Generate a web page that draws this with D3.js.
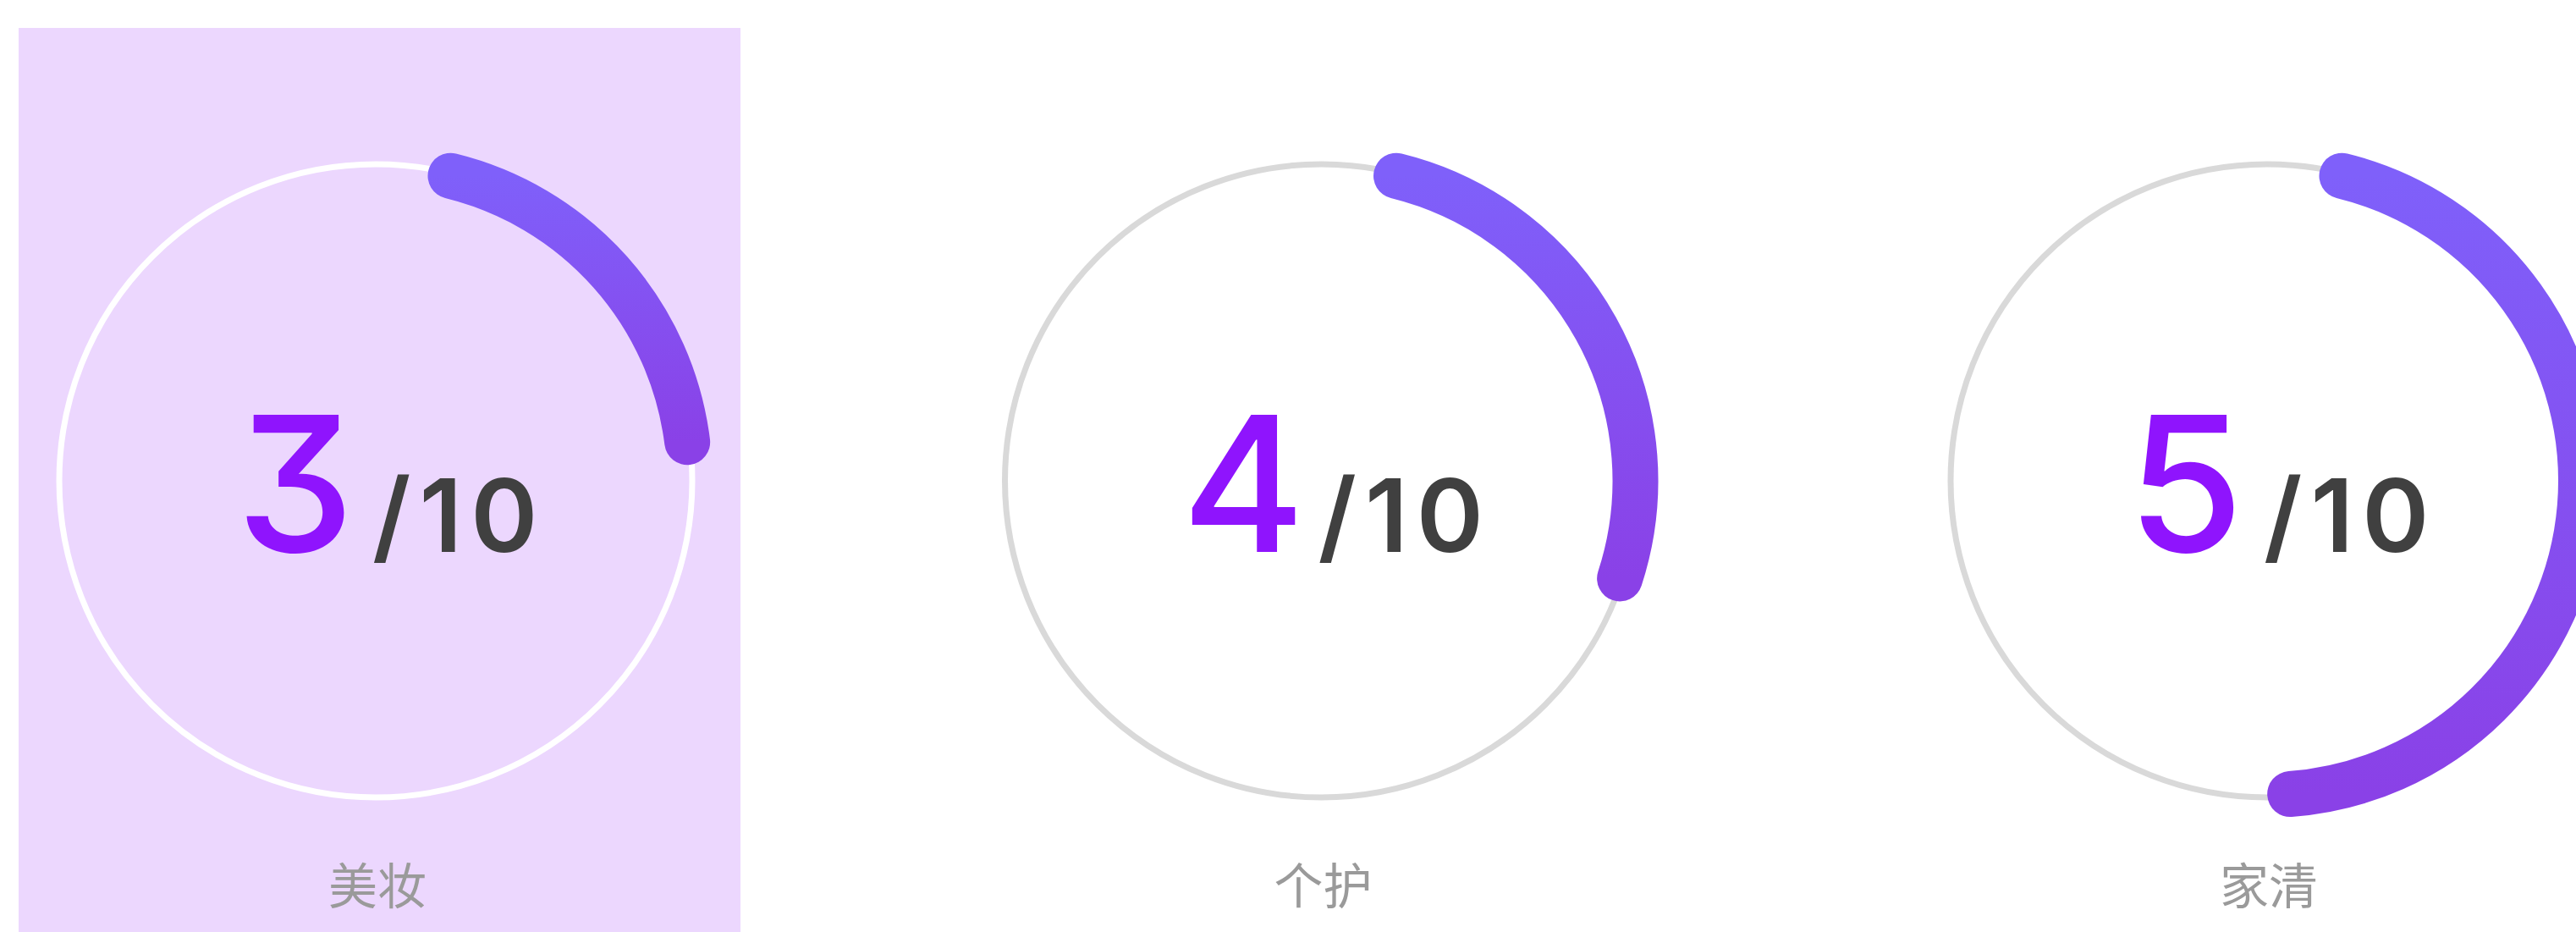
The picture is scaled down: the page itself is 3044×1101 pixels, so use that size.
<!DOCTYPE html>
<html>
<head>
<meta charset="utf-8">
<script src="https://cdn.jsdelivr.net/npm/d3@7"></script>
<style>
  html, body { margin: 0; padding: 0; background: #ffffff; overflow: hidden; }
  svg { display: block; }
</style>
</head>
<body>
<svg id="chart" width="3044" height="1101"></svg>
<script>
// ---- data ----
const categories = ["美妆", "个护", "家清"];
const scores = [3, 4, 5];
const totals = [10, 10, 10];
// fraction of the full ring covered by each progress arc
const progress = [0.192, 0.262, 0.45];
const selectedIndex = 0;

// ---- layout ----
const W = 3044, H = 1101;
const cy = 568;
const ringR = 374, arcR = 371;
const svg = d3.select("#chart");

const xPos = d3.scaleLinear().domain([0, 2]).range([444, 2679]);
const startDeg = 13.8;
const angle = d3.scaleLinear().domain([0, 1]).range([startDeg, startDeg + 360]);
const toRad = d => d * Math.PI / 180;

const defs = svg.append("defs");
const grad = defs.append("linearGradient")
  .attr("id", "arcGrad").attr("x1", 0).attr("y1", 0).attr("x2", 0).attr("y2", 1);
grad.append("stop").attr("offset", "0%").attr("stop-color", "#7f60fa");
grad.append("stop").attr("offset", "100%").attr("stop-color", "#8a41e7");

// selected background
svg.append("rect")
  .attr("x", 22).attr("y", 33)
  .attr("width", 853).attr("height", H - 33 + 10)
  .attr("fill", "#ecd7fe");

const panels = svg.selectAll("g.panel")
  .data(categories.map((c, i) => ({ c, i, score: scores[i], total: totals[i], p: progress[i] })))
  .join("g")
  .attr("class", "panel")
  .attr("transform", d => `translate(${xPos(d.i)},${cy})`);

panels.append("circle")
  .attr("r", ringR)
  .attr("fill", "none")
  .attr("stroke", d => d.i === selectedIndex ? "#ffffff" : "#d9d9d9")
  .attr("stroke-width", 7);

panels.append("path")
  .attr("d", d => {
    const p = d3.path();
    const a0 = toRad(angle(0)) - Math.PI / 2;
    const a1 = toRad(angle(d.p)) - Math.PI / 2;
    p.arc(0, 0, arcR, a0, a1, false);
    return p.toString();
  })
  .attr("fill", "none")
  .attr("stroke", "url(#arcGrad)")
  .attr("stroke-width", 54)
  .attr("stroke-linecap", "round");

const txt = panels.append("text")
  .attr("y", 652 - cy)
  .style("font-family", "Inter, 'Noto Sans', sans-serif")
  .style("font-feature-settings", "'cv09'");

txt.append("tspan")
  .attr("x", -165)
  .attr("fill", "#8f14fd")
  .style("font-size", "222px")
  .style("font-weight", 500)
  .text(d => d.score);

txt.append("tspan")
  .attr("x", -4)
  .attr("fill", "#404040")
  .style("font-size", "120px")
  .style("font-weight", 600)
  .style("letter-spacing", "10px")
  .text(d => "/" + d.total);

panels.append("text")
  .attr("x", 2)
  .attr("y", 1043 - cy)
  .attr("text-anchor", "middle")
  .attr("dominant-baseline", "central")
  .attr("fill", "#9a9a9a")
  .style("font-family", "'Noto Sans CJK SC', sans-serif")
  .style("font-size", "58px")
  .text(d => d.c);
</script>
</body>
</html>
